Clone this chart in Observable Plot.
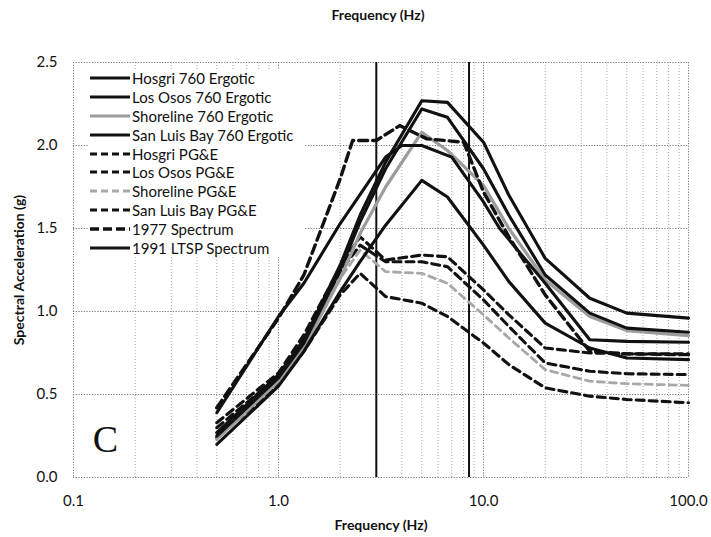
<!DOCTYPE html>
<html><head><meta charset="utf-8">
<script src="https://cdn.jsdelivr.net/npm/d3@7"></script>
<script src="https://cdn.jsdelivr.net/npm/@observablehq/plot@0.6"></script>
<style>
body{margin:0;background:#fff;}
#wrap{position:relative;width:711px;height:537px;font-family:Lato,"Open Sans",sans-serif;}
#legend{position:absolute;left:88px;top:69px;width:216px;background:#fff;}
.row{height:18.8px;display:flex;align-items:center;font-size:15px;color:#111;white-space:nowrap;}
.row svg{margin:0 2px 0 2px;flex:none;}
</style></head><body><div id="wrap"></div>
<script>
// Frequencies (Hz) shared by the site curves
const freqGrid = [0.5, 1, 1.33, 2, 2.5, 3.33, 5, 6.67, 10, 13.3, 20, 33, 50, 100];
// Spectral acceleration (g)
const hosgri760    = [0.27, 0.62, 0.83, 1.28, 1.58, 1.90, 2.27, 2.26, 2.02, 1.70, 1.32, 1.08, 0.99, 0.96];
const losOsos760   = [0.25, 0.60, 0.81, 1.25, 1.54, 1.86, 2.22, 2.17, 1.86, 1.58, 1.22, 0.99, 0.90, 0.875];
const shoreline760 = [0.23, 0.58, 0.78, 1.20, 1.47, 1.75, 2.08, 1.97, 1.76, 1.50, 1.19, 0.97, 0.885, 0.855];
const slb760       = [0.20, 0.55, 0.76, 1.12, 1.30, 1.52, 1.79, 1.69, 1.40, 1.18, 0.93, 0.78, 0.72, 0.71];
const hosgriPGE    = [0.33, 0.63, 0.86, 1.27, 1.45, 1.31, 1.34, 1.33, 1.13, 0.98, 0.78, 0.75, 0.745, 0.745];
const losOsosPGE   = [0.30, 0.61, 0.83, 1.24, 1.40, 1.30, 1.30, 1.27, 1.07, 0.91, 0.69, 0.64, 0.625, 0.62];
const shorelinePGE = [0.27, 0.59, 0.80, 1.20, 1.37, 1.24, 1.23, 1.17, 0.98, 0.84, 0.65, 0.58, 0.565, 0.555];
const slbPGE       = [0.24, 0.56, 0.76, 1.10, 1.23, 1.09, 1.05, 0.97, 0.81, 0.68, 0.54, 0.49, 0.47, 0.45];
// 1977 Hosgri spectrum
const freq1977 = [0.5, 1, 1.33, 2, 2.3, 3, 3.9, 5.3, 8, 10, 13.3, 20, 33, 50, 100];
const spec1977 = [0.42, 0.96, 1.22, 1.80, 2.03, 2.03, 2.12, 2.04, 2.02, 1.72, 1.45, 1.10, 0.76, 0.745, 0.74];
// 1991 LTSP spectrum
const freq1991 = [0.5, 1, 1.33, 2, 3.33, 4, 5, 7, 10, 12, 20, 33, 50, 100];
const spec1991 = [0.39, 0.97, 1.17, 1.53, 1.93, 2.00, 2.00, 1.93, 1.66, 1.50, 1.17, 0.83, 0.82, 0.815];

const majorTicks = [0.1, 1, 10, 100];
const minorTicks = [0.2,0.3,0.4,0.5,0.6,0.7,0.8,0.9, 2,3,4,5,6,7,8,9, 20,30,40,50,60,70,80,90];
const yTicks = [0, 0.5, 1, 1.5, 2, 2.5];
const markerFreqs = [3, 8.5];

const series = [
  {name:"Hosgri 760 Ergotic",       f:freqGrid, v:hosgri760,    stroke:"#111", w:3.1, dash:null},
  {name:"Los Osos 760 Ergotic",     f:freqGrid, v:losOsos760,   stroke:"#111", w:3.1, dash:null},
  {name:"Shoreline 760 Ergotic",    f:freqGrid, v:shoreline760, stroke:"#9c9c9c", w:3.2, dash:null},
  {name:"San Luis Bay 760 Ergotic", f:freqGrid, v:slb760,       stroke:"#111", w:3.1, dash:null},
  {name:"Hosgri PG&E",              f:freqGrid, v:hosgriPGE,    stroke:"#111", w:3.1, dash:"8,5"},
  {name:"Los Osos PG&E",            f:freqGrid, v:losOsosPGE,   stroke:"#111", w:3.1, dash:"8,5"},
  {name:"Shoreline PG&E",           f:freqGrid, v:shorelinePGE, stroke:"#a8a8a8", w:2.8, dash:"7,5"},
  {name:"San Luis Bay PG&E",        f:freqGrid, v:slbPGE,       stroke:"#111", w:3.1, dash:"8,5"},
  {name:"1977 Spectrum",            f:freq1977, v:spec1977,     stroke:"#111", w:3.4, dash:"9,5"},
  {name:"1991 LTSP Spectrum",       f:freq1991, v:spec1991,     stroke:"#111", w:3.1, dash:null}
];
const rows = series.flatMap(s => s.f.map((f, i) => ({series: s.name, f, v: s.v[i]})));
const drawOrder = [4,5,6,7,2,0,1,3,8,9];
const lineMarks = drawOrder.map(k => {
  const s = series[k];
  const o = {x:"f", y:"v", stroke:s.stroke, strokeWidth:s.w, strokeLinejoin:"round"};
  if (s.dash) o.strokeDasharray = s.dash;
  return Plot.line(rows.filter(r => r.series === s.name), o);
});

const chart = Plot.plot({
  width: 711, height: 537,
  marginLeft: 73, marginRight: 23, marginTop: 62, marginBottom: 60,
  style: {fontFamily: "Lato, 'Open Sans', sans-serif", fontSize: "15px", color: "#111", background: "#fff"},
  x: {type: "log", domain: [0.1, 100]},
  y: {domain: [0, 2.5]},
  marks: [
    Plot.ruleX(minorTicks, {stroke: "#aaa", strokeDasharray: "1,2"}),
    Plot.ruleX(majorTicks, {stroke: "#777", strokeDasharray: "1.2,1.5"}),
    Plot.ruleY(yTicks, {stroke: "#777", strokeDasharray: "1.2,1.5"}),
    Plot.ruleX(markerFreqs, {stroke: "#111", strokeWidth: 2}),
    ...lineMarks,
    Plot.axisX({ticks: majorTicks, tickFormat: d3.format(".1f"), tickSize: 0, tickPadding: 18, label: null}),
    Plot.axisY({ticks: yTicks, tickFormat: d3.format(".1f"), tickSize: 0, tickPadding: 16, label: null}),
    Plot.text(["Frequency (Hz)"], {text: d => d, frameAnchor: "bottom", dy: 48, lineAnchor: "middle", fontWeight: "bold", fontSize: 14}),
    Plot.text(["Frequency (Hz)"], {text: d => d, frameAnchor: "top", dy: -47, dx: -3, lineAnchor: "middle", fontWeight: "bold", fontSize: 14}),
    Plot.text(["Spectral Acceleration (g)"], {text: d => d, frameAnchor: "left", dx: -54, rotate: -90, textAnchor: "middle", lineAnchor: "middle", fontWeight: "bold", fontSize: 14}),
    Plot.text(["C"], {text: d => d, frameAnchor: "bottom-left", dx: 32, dy: -38, textAnchor: "middle", lineAnchor: "middle", fontFamily: "'Liberation Serif', 'DejaVu Serif', serif", fontSize: 38})
  ]
});
const wrap = document.getElementById("wrap");
wrap.appendChild(chart);

// legend
const legend = document.createElement("div");
legend.id = "legend";
series.forEach(s => {
  const row = document.createElement("div");
  row.className = "row";
  const ns = "http://www.w3.org/2000/svg";
  const svg = document.createElementNS(ns, "svg");
  svg.setAttribute("width", 40); svg.setAttribute("height", 10);
  const ln = document.createElementNS(ns, "line");
  ln.setAttribute("x1", 0); ln.setAttribute("x2", 40); ln.setAttribute("y1", 5); ln.setAttribute("y2", 5);
  ln.setAttribute("stroke", s.stroke); ln.setAttribute("stroke-width", s.w);
  if (s.dash) ln.setAttribute("stroke-dasharray", s.dash === "9,5" ? "9,4" : "7,4");
  svg.appendChild(ln);
  row.appendChild(svg);
  const t = document.createElement("span");
  t.textContent = s.name;
  row.appendChild(t);
  legend.appendChild(row);
});
wrap.appendChild(legend);
</script></body></html>
